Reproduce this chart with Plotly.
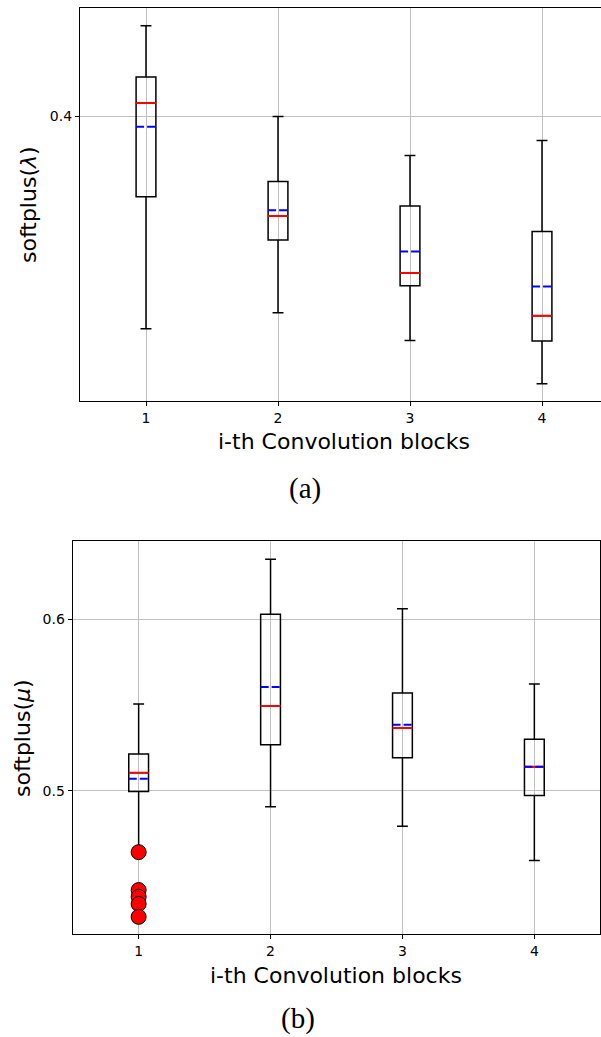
import plotly.graph_objects as go

# ---------------- data ----------------
blocks = [1, 2, 3, 4]
tick_labels = ["1", "2", "3", "4"]

# (a) softplus(lambda)
lam_upper = [0.4331, 0.3999, 0.3865, 0.3916]
lam_q3 = [0.4140, 0.3777, 0.3697, 0.3615]
lam_median = [0.4047, 0.3665, 0.3486, 0.3357]
lam_mean = [0.3963, 0.3683, 0.3552, 0.3445]
lam_q1 = [0.3727, 0.3588, 0.3447, 0.3284]
lam_lower = [0.3319, 0.3366, 0.3285, 0.3163]

# (b) softplus(mu)
mu_upper = [0.5482, 0.6393, 0.6066, 0.5600]
mu_q3 = [0.5199, 0.6030, 0.5546, 0.5281]
mu_median = [0.5096, 0.5470, 0.5344, 0.5128]
mu_mean = [0.5064, 0.5582, 0.5363, 0.5128]
mu_q1 = [0.4995, 0.5250, 0.5178, 0.4975]
mu_lower = [0.4700, 0.4915, 0.4815, 0.4642]
mu_outlier_block = [1, 1, 1, 1, 1]
mu_outliers = [0.4684, 0.4499, 0.4467, 0.4433, 0.4373]

BOX_W = 0.15
W, H = 601, 1037


def segs(xs, ys, hw=BOX_W / 2):
    xx, yy = [], []
    for x, y in zip(xs, ys):
        xx += [x - hw, x + hw, None]
        yy += [y, y, None]
    return xx, yy


fig = go.Figure()


def add_panel(xa, ya, q1, med, q3, lo, hi, mean):
    fig.add_trace(go.Box(
        x=blocks, q1=q1, median=med, q3=q3, lowerfence=lo, upperfence=hi,
        width=BOX_W, whiskerwidth=0.55, boxpoints=False,
        line=dict(color="black", width=1.5), fillcolor="rgba(0,0,0,0)",
        xaxis=xa, yaxis=ya, showlegend=False, hoverinfo="skip"))
    mx, my = segs(blocks, med)
    fig.add_trace(go.Scatter(x=mx, y=my, mode="lines",
                             line=dict(color="#ff0000", width=2),
                             xaxis=xa, yaxis=ya, showlegend=False))
    ax, ay = segs(blocks, mean)
    fig.add_trace(go.Scatter(x=ax, y=ay, mode="lines",
                             line=dict(color="#0000ff", width=2, dash="8px,3px"),
                             xaxis=xa, yaxis=ya, showlegend=False))


add_panel("x", "y", lam_q1, lam_median, lam_q3, lam_lower, lam_upper, lam_mean)
add_panel("x2", "y2", mu_q1, mu_median, mu_q3, mu_lower, mu_upper, mu_mean)

fig.add_trace(go.Scatter(
    x=mu_outlier_block, y=mu_outliers, mode="markers",
    marker=dict(color="#ff0000", size=15, line=dict(color="black", width=1)),
    xaxis="x2", yaxis="y2", showlegend=False))

tickfont = dict(family="DejaVu Sans", size=14, color="black")
grid = dict(showgrid=True, gridcolor="#c0c0c0", gridwidth=1.2)

top_x0, top_x1 = 80, 601
bot_x0, bot_x1 = 72.7, 600.3
top_y0, top_y1 = 8, 401.3
bot_y0, bot_y1 = 541, 934.3

axcommon = dict(ticks="outside", ticklen=4, tickcolor="black", tickfont=tickfont,
                showline=True, linecolor="black", linewidth=1.2, zeroline=False, **grid)

fig.update_layout(
    width=W, height=H, margin=dict(l=0, r=0, t=0, b=0),
    paper_bgcolor="white", plot_bgcolor="white",
    xaxis=dict(domain=[top_x0 / W, top_x1 / W], anchor="y",
               range=[0.5, 0.5 + (top_x1 - top_x0) / 132.0],
               tickvals=blocks, ticktext=tick_labels, mirror=True, **axcommon),
    yaxis=dict(domain=[1 - top_y1 / H, 1 - top_y0 / H], anchor="x",
               type="log", range=[-0.50664, -0.35664],
               tickvals=[0.4], ticktext=["0.4"], mirror=False, **axcommon),
    xaxis2=dict(domain=[bot_x0 / W, bot_x1 / W], anchor="y2",
                range=[0.5, 4.5],
                tickvals=blocks, ticktext=tick_labels, mirror=True, **axcommon),
    yaxis2=dict(domain=[1 - bot_y1 / H, 1 - bot_y0 / H], anchor="x2",
                type="log", range=[-0.36728, -0.18587],
                tickvals=[0.5, 0.6], ticktext=["0.5", "0.6"], mirror=True, **axcommon),
)

labfont = dict(family="DejaVu Sans", size=22, color="black")
capfont = dict(family="Liberation Serif, Times New Roman, serif", size=29, color="black")

ann = [
    dict(text="i-th Convolution blocks", x=344 / W, y=1 - 441 / H, font=labfont),
    dict(text="softplus(<i>λ</i>)", x=28 / W, y=1 - 205 / H, font=labfont, textangle=-90),
    dict(text="(a)", x=305 / W, y=1 - 488 / H, font=capfont),
    dict(text="i-th Convolution blocks", x=336.5 / W, y=1 - 975 / H, font=labfont),
    dict(text="softplus(<i>μ</i>)", x=22 / W, y=1 - 738 / H, font=labfont, textangle=-90),
    dict(text="(b)", x=298 / W, y=1 - 1018 / H, font=capfont),
]
for a in ann:
    fig.add_annotation(xref="paper", yref="paper", xanchor="center", yanchor="middle",
                       showarrow=False, **a)

fig.write_html("out.html", config={"displayModeBar": False},
               post_script="document.body.style.margin='0px';document.body.style.overflow='hidden';")
